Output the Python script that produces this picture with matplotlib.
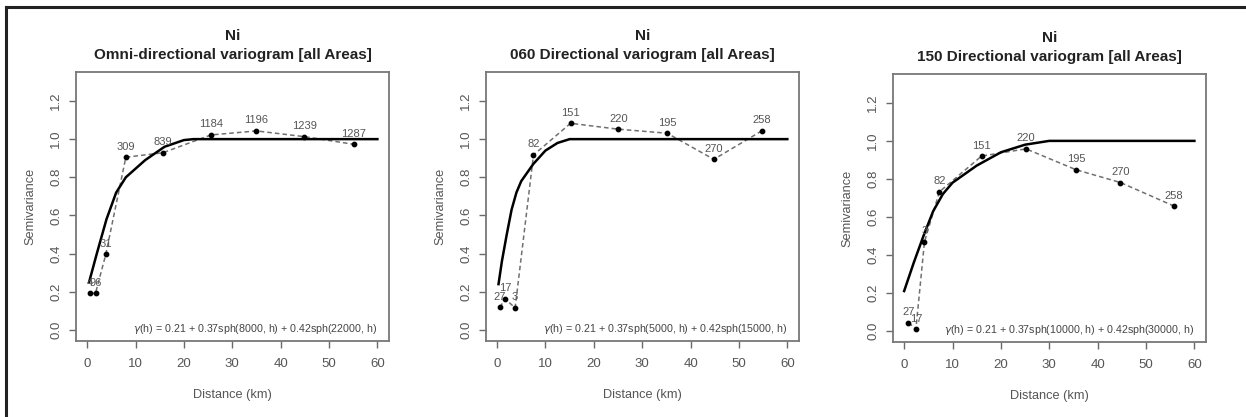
import matplotlib
matplotlib.use("Agg")
import matplotlib.pyplot as plt

plt.rcParams['font.family'] = ['Liberation Sans', 'DejaVu Sans']

# experimental variogram points (distance km, semivariance, pair labels)
omni_x = [0.55, 1.73, 3.87, 8.0, 15.7, 25.6, 35.0, 44.9, 55.1]
omni_y = [0.192, 0.192, 0.397, 0.905, 0.929, 1.022, 1.043, 1.013, 0.973]
omni_lab = ["4", "96", "31", "309", "839", "1184", "1196", "1239", "1287"]

d060_x = [0.55, 1.73, 3.73, 7.53, 15.2, 25.1, 35.15, 44.8, 54.7]
d060_y = [0.119, 0.162, 0.115, 0.917, 1.083, 1.052, 1.031, 0.894, 1.043]
d060_lab = ["27", "17", "3", "82", "151", "220", "195", "270", "258"]

d150_x = [0.9, 2.43, 4.2, 7.28, 16.0, 25.2, 35.55, 44.7, 55.8]
d150_y = [0.044, 0.009, 0.468, 0.732, 0.92, 0.958, 0.848, 0.781, 0.657]
d150_lab = ["27", "17", "3", "82", "151", "220", "195", "270", "258"]

# fitted model curves
omni_mx = [0.4, 2, 4, 6, 8, 12, 16, 20, 22, 60]
omni_my = [0.25, 0.40, 0.58, 0.72, 0.80, 0.89, 0.96, 0.995, 1.0, 1.0]

d060_mx = [0.3, 1, 2, 3, 4, 5, 7.5, 10, 12.5, 15, 60]
d060_my = [0.24, 0.36, 0.50, 0.63, 0.72, 0.78, 0.87, 0.94, 0.98, 1.0, 1.0]

d150_mx = [0, 2, 4, 6, 8, 10, 15, 20, 25, 30, 60]
d150_my = [0.21, 0.36, 0.50, 0.63, 0.72, 0.78, 0.87, 0.94, 0.98, 1.0, 1.0]

titles = ["Ni\nOmni-directional variogram [all Areas]",
          "Ni\n060 Directional variogram [all Areas]",
          "Ni\n150 Directional variogram [all Areas]"]
formulas = [r"$\gamma$(h) = 0.21 + 0.37sph(8000, h) + 0.42sph(22000, h)",
            r"$\gamma$(h) = 0.21 + 0.37sph(5000, h) + 0.42sph(15000, h)",
            r"$\gamma$(h) = 0.21 + 0.37sph(10000, h) + 0.42sph(30000, h)"]

panels = [(omni_x, omni_y, omni_lab, omni_mx, omni_my),
          (d060_x, d060_y, d060_lab, d060_mx, d060_my),
          (d150_x, d150_y, d150_lab, d150_mx, d150_my)]

fig = plt.figure(figsize=(12.46, 4.17), dpi=100)
fig.patch.set_facecolor("white")

# frame lines (top and left) of the screenshot
fig.add_artist(plt.Line2D([0.005, 1.0], [0.983, 0.983], color="#222222", lw=2.2,
                          transform=fig.transFigure))
fig.add_artist(plt.Line2D([0.005, 0.005], [0.0, 0.983], color="#222222", lw=2.2,
                          transform=fig.transFigure))

rects = [[0.0610, 0.1823, 0.2512, 0.6451],
         [0.3900, 0.1823, 0.2512, 0.6451],
         [0.7167, 0.1799, 0.2512, 0.6427]]

grey = "#6a6a6a"
for i, (px, py, lab, mx, my) in enumerate(panels):
    ax = fig.add_axes(rects[i])
    ax.plot(px, py, color="#707070", ls=(0, (3, 2)), lw=1.1, zorder=2)
    ax.plot(mx, my, color="black", lw=1.8, zorder=3)
    ax.scatter(px, py, s=10, color="black", zorder=4)
    for x, y, t in zip(px, py, lab):
        ax.annotate(t, (x, y), xytext=(0, 4), textcoords="offset points",
                    ha="center", va="bottom", fontsize=8, color="#555555")
    ax.text(60, 0.005, formulas[i], ha="right", va="center", fontsize=7.7,
            color="#444444")
    ax.set_xlim(-2.3, 62.4)
    ax.set_ylim(-0.058, 1.352)
    ax.set_xticks([0, 10, 20, 30, 40, 50, 60])
    ax.set_yticks([0.0, 0.2, 0.4, 0.6, 0.8, 1.0, 1.2])
    ax.set_yticklabels(["0.0", "0.2", "0.4", "0.6", "0.8", "1.0", "1.2"],
                       rotation=90, va="center")
    ax.tick_params(axis="both", colors=grey, labelcolor="#555555", labelsize=9.5,
                   length=5, width=1.0)
    ax.tick_params(axis="x", pad=7)
    ax.tick_params(axis="y", pad=5)
    for s in ax.spines.values():
        s.set_color("#777777")
        s.set_linewidth(1.3)
    ax.set_xlabel("Distance (km)", fontsize=9.2, color="#555555", labelpad=14)
    ax.set_ylabel("Semivariance", fontsize=9.2, color="#555555", labelpad=10)
    ax.set_title(titles[i], fontsize=11, fontweight="bold", color="#222222",
                 pad=9, linespacing=1.5)

fig.savefig("out.png", dpi=100, facecolor="white")
